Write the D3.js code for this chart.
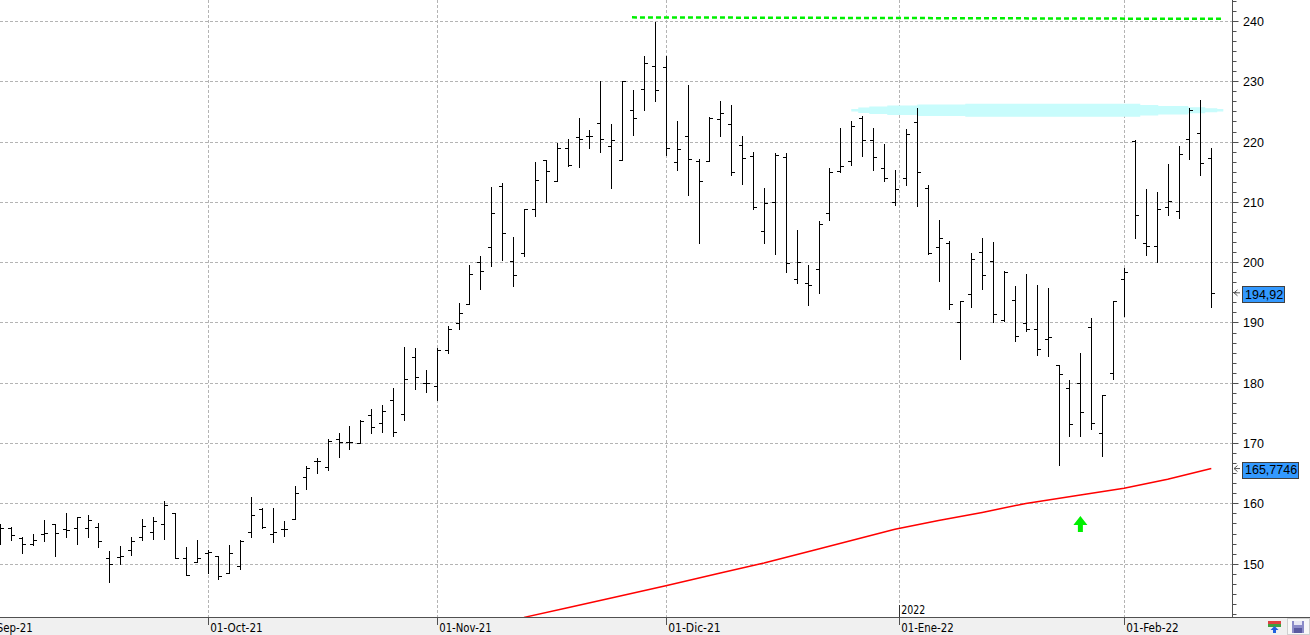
<!DOCTYPE html>
<html>
<head>
<meta charset="utf-8">
<script src="https://cdn.jsdelivr.net/npm/d3@7/dist/d3.min.js"></script>
<style>
  html, body { margin: 0; padding: 0; background: #fff; overflow: hidden; }
  svg { display: block; }
</style>
</head>
<body>
<script>
// ********************************** //
// ** Data (daily bars 03-Sep-21 .. 11-Feb-22)
// ********************************** //
const open = [
  156.2, 156.0, 154.2, 153.2, 154.9, 156.5, 155.7, 156.0, 155.9, 156.1,
  150.9, 151.1, 152.3, 154.5, 155.3, 156.6, 158.35, 150.9, 150.2, 151.8,
  151.3, 148.4, 149.7, 155.2, 159.1, 154.9, 155.8, 157.4, 164.3, 167.0,
  166.0, 170.6, 170.1, 170.0, 174.7, 173.4, 177.1, 174.8, 184.2, 179.9,
  179.5, 185.5, 189.9, 193.0, 200.0, 202.6, 212.6, 200.2, 201.6, 208.9,
  216.9, 213.4, 219.0, 220.7, 221.0, 223.0, 219.2, 216.9, 225.2, 228.8,
  232.6, 232.3, 216.6, 221.0, 216.8, 216.7, 223.7, 222.9, 219.4, 217.6,
  205.1, 209.9, 217.5, 197.2, 196.6, 198.8, 208.1, 215.2, 216.8, 223.9,
  220.2, 215.6, 209.9, 213.9, 223.2, 212.3, 202.5, 203.1, 190.0, 194.8,
  201.7, 200.2, 190.4, 193.8, 189.9, 188.9, 187.2, 182.95, 179.1, 179.9,
  189.3, 171.6, 181.7, 197.2, 220.15, 203.1, 202.7, 209.1, 208.5, 220.5,
  221.5, 217.2
];
const high = [
  156.5, 156.1, 154.4, 155.0, 157.2, 156.5, 158.35, 157.7, 158.1, 156.7,
  152.1, 152.9, 154.4, 157.4, 157.7, 160.4, 158.35, 152.8, 153.9, 152.2,
  151.3, 153.1, 154.0, 161.1, 159.3, 159.2, 157.0, 162.9, 166.2, 167.5,
  170.6, 171.6, 172.8, 173.9, 175.6, 176.3, 179.2, 185.9, 185.7, 182.2,
  185.7, 189.4, 193.2, 199.5, 201.0, 212.4, 213.2, 204.1, 208.9, 216.6,
  216.9, 219.7, 220.4, 223.9, 222.0, 230.0, 222.9, 230.1, 228.6, 234.2,
  239.8, 234.2, 223.4, 229.4, 217.1, 224.1, 226.7, 226.1, 220.9, 218.3,
  212.3, 218.05, 218.05, 205.3, 199.5, 206.8, 215.6, 222.3, 223.4, 224.2,
  222.2, 219.6, 215.3, 222.1, 225.5, 212.8, 207.0, 203.5, 193.6, 201.5,
  204.0, 203.3, 198.6, 196.1, 198.1, 196.2, 195.7, 182.95, 180.5, 184.9,
  190.7, 178.0, 193.6, 199.0, 220.3, 212.1, 211.6, 216.3, 219.3, 225.5,
  226.9, 218.9
];
const low = [
  153.2, 153.9, 151.7, 153.1, 153.8, 151.2, 154.5, 153.2, 154.4, 152.8,
  147.0, 149.9, 151.4, 153.9, 154.1, 154.1, 150.9, 148.2, 150.2, 148.5,
  147.5, 148.4, 149.1, 154.5, 155.9, 153.6, 154.6, 157.4, 162.4, 165.0,
  165.5, 167.7, 169.0, 170.0, 171.7, 171.9, 171.2, 173.9, 178.9, 178.4,
  177.1, 184.9, 188.9, 193.0, 195.5, 199.3, 200.4, 196.0, 201.1, 207.7,
  209.9, 213.4, 216.0, 215.8, 219.0, 218.3, 212.3, 216.9, 221.1, 225.3,
  226.8, 217.8, 215.3, 211.2, 203.1, 216.7, 220.9, 214.5, 213.0, 208.8,
  203.2, 201.3, 198.4, 196.6, 192.9, 194.9, 207.0, 215.0, 216.1, 217.6,
  215.3, 213.4, 209.5, 212.8, 209.4, 201.3, 196.8, 192.2, 183.9, 192.6,
  195.5, 190.1, 190.2, 187.0, 188.6, 184.6, 184.5, 166.3, 171.2, 171.2,
  172.3, 167.9, 180.6, 191.1, 204.0, 201.2, 200.0, 207.8, 207.3, 217.1,
  214.5, 192.5
];
const close = [
  155.9, 154.8, 153.2, 154.0, 155.1, 155.1, 155.6, 157.7, 157.2, 153.7,
  149.9, 151.2, 153.7, 156.3, 157.1, 159.7, 151.0, 148.2, 150.9, 151.9,
  148.0, 151.7, 153.8, 158.0, 156.1, 155.2, 155.8, 161.7, 165.8, 167.1,
  170.3, 170.1, 170.2, 173.7, 172.6, 175.3, 171.8, 180.7, 180.9, 179.9,
  185.5, 188.9, 191.5, 198.1, 198.6, 208.1, 204.9, 197.8, 208.8, 213.7,
  215.2, 219.0, 216.2, 220.5, 220.9, 220.5, 220.2, 230.0, 223.9, 233.1,
  228.5, 219.0, 218.7, 217.1, 213.4, 223.9, 224.7, 215.0, 217.2, 209.2,
  209.8, 217.8, 199.8, 200.1, 196.2, 206.4, 214.9, 216.0, 222.6, 220.3,
  217.5, 213.9, 212.1, 221.3, 214.9, 201.6, 204.0, 193.0, 193.6, 200.5,
  197.9, 191.4, 198.4, 187.7, 189.0, 185.6, 187.65, 181.4, 173.1, 175.2,
  173.4, 178.0, 193.5, 198.3, 207.9, 202.7, 208.9, 210.2, 218.0, 225.2,
  216.5, 194.92
];

// moving average, read at some bars
const maBars = [48, 52, 56, 61, 66, 70, 75, 82, 86, 90, 94, 99, 103, 107, 111];
const maValues = [141.1, 142.7, 144.3, 146.35, 148.45, 150.1, 152.45, 155.7,
  157.15, 158.5, 160.0, 161.4, 162.5, 164.0, 165.77];

const yTicks = [150, 160, 170, 180, 190, 200, 210, 220, 230, 240];
const monthStarts = ["2021-09-01", "2021-10-01", "2021-11-01", "2021-12-01", "2022-01-01", "2022-02-01"];
const monthLabels = ["01-Sep-21", "01-Oct-21", "01-Nov-21", "01-Dic-21", "01-Ene-22", "01-Feb-22"];
const yearLabel = "2022";
const holidays = ["2021-09-06", "2021-11-25", "2021-12-24", "2022-01-17"];

const lastLabel = "194,92";
const lastValue = 194.92;
const maLabel = "165,7746";
const maLast = 165.7746;

// drawn objects
const resistanceBars = [57.9, 112];
const resistanceValues = [240.6, 240.35];
const zoneBars = [78, 112.1];
const zoneValue = 225.2;
const signalBar = 99;
const signalValue = 157.9;

// ********************************** //
// ** Setup
// ********************************** //
const W = 1310, H = 635;
const plotW = 1232, plotH = 617;
const parse = d3.timeParse("%Y-%m-%d");

// trading days from first month tick to last bar
const holidaySet = new Set(holidays);
const days = d3.timeDay
  .range(parse("2021-09-01"), parse("2022-02-12"))
  .filter(d => d.getDay() !== 0 && d.getDay() !== 6)
  .filter(d => !holidaySet.has(d3.timeFormat("%Y-%m-%d")(d)));
const offset = days.length - open.length;
const dayTimes = days.map(d => +d);

// date -> bar index (interpolated between trading days)
const indexOf = date => {
  const t = +date;
  const i = d3.bisectLeft(dayTimes, t);
  if (dayTimes[i] === t) return i - offset;
  const a = dayTimes[i - 1], b = dayTimes[i];
  return i - 1 + (t - a) / (b - a) - offset;
};

const x = d3.scaleLinear().domain([0, open.length - 1]).range([0.3, 1211.3]);
const y = d3.scaleLinear().domain([141.16, 243.48]).range([plotH, 0]);
const px = v => Math.round(v) + 0.5;

const svg = d3.select("body")
  .append("svg")
  .attr("width", W)
  .attr("height", H);

svg.append("defs")
  .append("clipPath")
  .attr("id", "plotClip")
  .append("rect")
  .attr("width", plotW)
  .attr("height", plotH);

const plot = svg.append("g").attr("clip-path", "url(#plotClip)");

// ********************************** //
// ** Grid
// ********************************** //
const monthIdx = monthStarts.map(s => indexOf(parse(s)));

plot.append("g")
  .selectAll("line")
  .data(yTicks)
  .join("line")
  .attr("x1", 0)
  .attr("x2", plotW)
  .attr("y1", d => px(y(d)))
  .attr("y2", d => px(y(d)))
  .attr("stroke", "#b4b4b4")
  .attr("stroke-dasharray", "3,2");

plot.append("g")
  .selectAll("line")
  .data(monthIdx)
  .join("line")
  .attr("x1", d => px(x(d)))
  .attr("x2", d => px(x(d)))
  .attr("y1", 0)
  .attr("y2", plotH)
  .attr("stroke", "#b4b4b4")
  .attr("stroke-dasharray", "3,2");

// ********************************** //
// ** Drawn objects
// ********************************** //
// cyan brushed zone
const zx0 = x(zoneBars[0]), zx1 = x(zoneBars[1]);
const zy = y(zoneValue);
const profile = [[0, 1.2], [7, 2.7], [18, 3.8], [36, 4.8], [66, 5.7], [114, 6.6],
  [260, 6.6], [289, 5.3], [307, 4.2], [337, 3], [354, 2], [366, 1.3], [zx1 - zx0, 0.8]];
plot.append("path")
  .datum(profile)
  .attr("fill", "#c8fcfc")
  .attr("d", d3.area()
    .curve(d3.curveStepAfter)
    .x(d => zx0 + d[0])
    .y0(d => zy - d[1])
    .y1(d => zy + d[1]));

// moving average
plot.append("path")
  .datum(d3.zip(maBars, maValues))
  .attr("fill", "none")
  .attr("stroke", "#ff0000")
  .attr("stroke-width", 1.5)
  .attr("d", d3.line().x(d => x(d[0])).y(d => y(d[1])));

// green resistance
plot.append("line")
  .attr("x1", x(resistanceBars[0]))
  .attr("x2", x(resistanceBars[1]))
  .attr("y1", y(resistanceValues[0]))
  .attr("y2", y(resistanceValues[1]))
  .attr("stroke", "#00f000")
  .attr("stroke-width", 2.5)
  .attr("stroke-dasharray", "5,3");

// ********************************** //
// ** Bars
// ********************************** //
const bar = plot.append("g")
  .attr("stroke", "#000")
  .attr("stroke-width", 1)
  .selectAll("g")
  .data(d3.range(open.length))
  .join("g");

bar.append("line")
  .attr("x1", i => px(x(i)))
  .attr("x2", i => px(x(i)))
  .attr("y1", i => Math.round(y(high[i])))
  .attr("y2", i => Math.round(y(low[i])) + 1);

bar.append("line")
  .attr("x1", i => Math.round(x(i)) - 3)
  .attr("x2", i => Math.round(x(i)))
  .attr("y1", i => px(y(open[i])))
  .attr("y2", i => px(y(open[i])));

bar.append("line")
  .attr("x1", i => Math.round(x(i)) + 1)
  .attr("x2", i => Math.round(x(i)) + 4)
  .attr("y1", i => px(y(close[i])))
  .attr("y2", i => px(y(close[i])));

// signal arrow
const ax = x(signalBar), ay = y(signalValue);
plot.append("path")
  .attr("fill", "#00f000")
  .attr("d", `M${ax},${ay} L${ax + 7},${ay + 9} L${ax + 2.5},${ay + 9} L${ax + 2.5},${ay + 16}
    L${ax - 2.5},${ay + 16} L${ax - 2.5},${ay + 9} L${ax - 7},${ay + 9} Z`);

// ********************************** //
// ** Axes
// ********************************** //
svg.append("rect")
  .attr("x", 0)
  .attr("y", plotH)
  .attr("width", W)
  .attr("height", H - plotH)
  .attr("fill", "#f0f0f0");

svg.append("line")
  .attr("x1", 0)
  .attr("x2", W)
  .attr("y1", plotH + 0.5)
  .attr("y2", plotH + 0.5)
  .attr("stroke", "#505050");

// x axis
const xAxis = svg.append("g")
  .attr("transform", `translate(0,${plotH})`)
  .call(d3.axisBottom(x)
    .tickValues(monthIdx)
    .tickFormat((d, k) => monthLabels[k])
    .tickSize(8)
    .tickSizeOuter(0));
xAxis.select(".domain").remove();
xAxis.selectAll(".tick")
  .attr("transform", d => `translate(${px(x(d))},0)`);
xAxis.selectAll(".tick line").attr("stroke", "#333");
xAxis.selectAll(".tick text")
  .attr("text-anchor", "start")
  .attr("x", 1.7)
  .attr("y", 15)
  .attr("dy", null)
  .attr("fill", "#000")
  .attr("font-family", "'Liberation Sans Narrow', 'DejaVu Sans Condensed', 'Liberation Sans', sans-serif")
  .attr("font-size", 12.5)
  .attr("textLength", 52.5)
  .attr("lengthAdjust", "spacingAndGlyphs");

// year marker
const yearX = px(x(indexOf(parse(monthStarts[4]))));
svg.append("line")
  .attr("x1", yearX)
  .attr("x2", yearX)
  .attr("y1", 605)
  .attr("y2", plotH)
  .attr("stroke", "#333");
svg.append("text")
  .attr("x", yearX + 1.8)
  .attr("y", 614.3)
  .attr("font-family", "'Liberation Sans Narrow', 'DejaVu Sans Condensed', 'Liberation Sans', sans-serif")
  .attr("font-size", 12.5)
  .attr("textLength", 24)
  .attr("lengthAdjust", "spacingAndGlyphs")
  .text(yearLabel);

// y axis
const minorTicks = d3.range(0, 64)
  .map(k => 140 + k * 10 / 6)
  .filter(v => v >= y.domain()[0] && v <= y.domain()[1]);

const yMinor = svg.append("g")
  .attr("transform", `translate(${plotW + 0.5},0)`)
  .call(d3.axisRight(y).tickValues(minorTicks).tickSize(4).tickSizeOuter(0).tickFormat(""));
yMinor.select(".domain").attr("stroke", "#505050").attr("d", `M0,0V${plotH}`);

const yAxis = svg.append("g")
  .attr("transform", `translate(${plotW + 0.5},0)`)
  .call(d3.axisRight(y).tickValues(yTicks).tickSize(6).tickPadding(4.5).tickSizeOuter(0));
yAxis.select(".domain").remove();
svg.selectAll(".tick line").attr("stroke", "#505050");
yMinor.selectAll(".tick").attr("transform", d => `translate(0,${px(y(d))})`);
yAxis.selectAll(".tick").attr("transform", d => `translate(0,${px(y(d))})`);
yAxis.selectAll(".tick text")
  .attr("fill", "#000")
  .attr("font-family", "'Liberation Sans', Arial, sans-serif")
  .attr("font-size", 12.5);

// price labels
const priceTag = (label, value) => {
  const cy = y(value);
  const g = svg.append("g");
  g.append("path")
    .attr("fill", "none")
    .attr("stroke", "#555")
    .attr("d", `M${plotW + 5.5},${cy - 3} L${plotW + 2},${cy} L${plotW + 5.5},${cy + 3} M${plotW + 2},${cy} H${plotW + 8}`);
  const rect = g.append("rect")
    .attr("fill", "#3399ff")
    .attr("stroke", "#404040");
  const t = g.append("text")
    .attr("x", 1245)
    .attr("y", cy + 1.5)
    .attr("dy", "0.35em")
    .attr("font-family", "'Liberation Sans', Arial, sans-serif")
    .attr("font-size", 12.5)
    .attr("fill", "#000")
    .text(label);
  const w = t.node().getComputedTextLength();
  rect.attr("x", 1242.5)
    .attr("y", Math.round(cy + 1.5 - 8) + 0.5)
    .attr("width", Math.round(w + 4))
    .attr("height", 16);
};
priceTag(lastLabel, lastValue);
priceTag(maLabel, maLast);

// ********************************** //
// ** Corner icons
// ********************************** //
const icons = svg.append("g");
icons.append("rect").attr("x", 1268).attr("y", 621).attr("width", 13).attr("height", 3).attr("fill", "#e04040");
icons.append("rect").attr("x", 1268).attr("y", 624).attr("width", 13).attr("height", 3).attr("fill", "#40a040");
icons.append("path").attr("d", "M1274.5,626 L1278.5,630 L1276,630 L1276,633 L1273,633 L1273,630 L1270.5,630 Z").attr("fill", "#2060e0");
icons.append("rect").attr("x", 1287.5).attr("y", 618.5).attr("width", 22).attr("height", 16)
  .attr("fill", "#f8f8f8").attr("stroke", "#d0d0d0");
icons.append("rect").attr("x", 1292).attr("y", 621).attr("width", 12).attr("height", 12).attr("fill", "#8c8cc8");
icons.append("rect").attr("x", 1294).attr("y", 621).attr("width", 8).attr("height", 4).attr("fill", "#e8e8f4");
icons.append("rect").attr("x", 1294).attr("y", 628).attr("width", 8).attr("height", 5).attr("fill", "#5a5aa0");
</script>
</body>
</html>
